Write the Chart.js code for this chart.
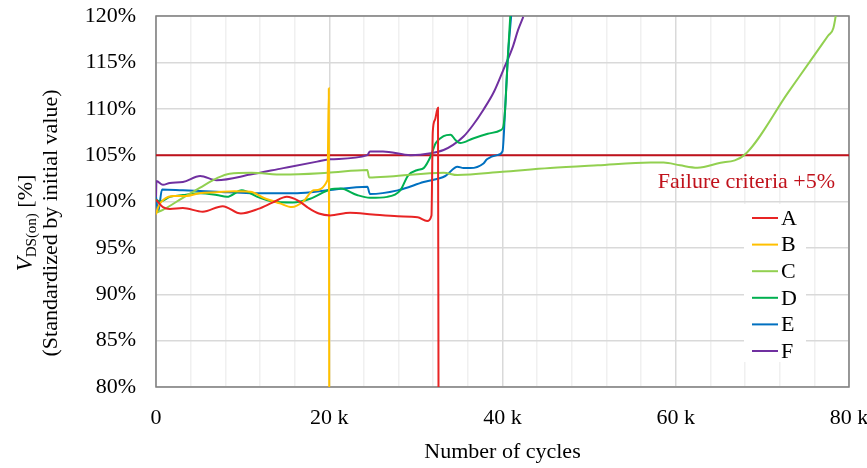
<!DOCTYPE html>
<html>
<head>
<meta charset="utf-8">
<script src="https://cdn.jsdelivr.net/npm/chart.js@4.4.0/dist/chart.umd.min.js"></script>
<style>
  body { margin: 0; background: #fff; }
  canvas { display: block; }
</style>
</head>
<body>
<canvas id="vds" width="867" height="468"></canvas>
<script>
// cycles in thousands (k), values in % of initial value
const seriesNames = ['A', 'B', 'C', 'D', 'E', 'F'];
const seriesColors = ['#e82424', '#ffc000', '#92d050', '#00b050', '#0070c0', '#7030a0'];

const aCycles = [0, 0.8, 1.6, 3.1, 5.4, 7.7, 9.8, 11.8, 13.5, 15.1, 16.4, 17.6, 18.8, 20.1, 22.4, 25, 27.9, 30.2, 31.3, 31.8, 31.95, 32.2, 32.55, 32.62];
const aValues = [100.2, 99.4, 99.2, 99.3, 98.9, 99.5, 98.7, 99.2, 99.9, 100.5, 100.1, 99.3, 98.7, 98.5, 98.8, 98.6, 98.4, 98.3, 97.9, 98.5, 107.5, 108.8, 110.1, 75];

const bCycles = [0, 0.3, 1, 2, 3.5, 5, 7, 9, 10.9, 12.4, 14.3, 15.7, 17, 18.2, 19.8, 19.95, 20.0];
const bValues = [98.6, 99.5, 100.3, 100.6, 100.6, 100.9, 101.0, 101.1, 101.05, 100.4, 99.8, 99.4, 100, 101.2, 102.3, 112.2, 75];

const cCycles = [0, 0.8, 3.1, 5.1, 7, 8.5, 11, 14.7, 19.8, 24.4, 24.6, 27, 33.2, 34.8, 40, 45.5, 51, 57.1, 58.6, 60.5, 62.5, 64.8, 67.9, 73, 75.5, 77.6, 78.2, 78.8];
const cValues = [98.8, 99.1, 100.4, 101.5, 102.5, 103.0, 103.1, 102.9, 103.1, 103.4, 102.6, 102.7, 103.1, 102.85, 103.2, 103.6, 103.9, 104.2, 104.2, 103.9, 103.65, 104.1, 105, 111.8, 115.1, 117.9, 118.7, 122];

const dCycles = [0, 0.46, 1.6, 3.1, 5.1, 7, 8.2, 9.9, 11.7, 13.5, 15.8, 17.8, 20.1, 21.3, 23.2, 24.7, 26.7, 28.2, 29.1, 30.2, 30.9, 31.7, 32.3, 33.2, 34.0, 34.6, 35.1, 36.6, 38.3, 39.8, 40.1, 40.3, 40.6, 40.9];
const dValues = [100.2, 100.0, 100.5, 100.7, 100.9, 100.7, 100.5, 101.2, 100.5, 100.0, 99.9, 100.3, 101.3, 101.4, 100.7, 100.4, 100.5, 101.2, 102.8, 103.4, 103.6, 104.85, 106.3, 107.05, 107.2, 106.6, 106.3, 106.8, 107.3, 107.7, 108.1, 109.9, 115.3, 120];

const eCycles = [0, 0.25, 0.7, 3.1, 7, 10.9, 14.7, 16.3, 19.8, 24.4, 24.7, 27.9, 30.9, 33.4, 34.8, 35.5, 36.3, 37.8, 38.2, 39.4, 40.0, 40.3, 40.6, 41.0];
const eValues = [100.5, 98.9, 101.3, 101.2, 101.05, 100.9, 100.9, 100.9, 101.2, 101.6, 100.8, 101.2, 102.1, 102.75, 103.75, 103.6, 103.6, 104.1, 104.55, 105.0, 105.4, 109.9, 115.3, 120];

const fCycles = [0, 0.05, 0.8, 1.6, 3.1, 5.1, 7, 10.9, 14.7, 18.6, 20.1, 24.4, 24.7, 26.2, 29.4, 31.7, 33.2, 34.3, 35.5, 36.6, 37.8, 39.0, 40.1, 41.2, 41.8, 42.4];
const fValues = [100.2, 102.2, 101.8, 102.0, 102.1, 102.75, 102.3, 102.9, 103.6, 104.3, 104.55, 105.0, 105.4, 105.4, 105.0, 105.2, 105.55, 106.1, 107.0, 108.25, 109.9, 111.8, 114.2, 116.7, 118.5, 119.9];

const failureCycles = [0, 80];
const failureValues = [105, 105];
const failureText = 'Failure criteria +5%';

const xTicks = [0, 20, 40, 60, 80];
const yMin = 80, yMax = 120, yStep = 5;

const allCycles = [aCycles, bCycles, cCycles, dCycles, eCycles, fCycles];
const allValues = [aValues, bValues, cValues, dValues, eValues, fValues];

const serif = "'Liberation Serif', 'Times New Roman', serif";

function toPoints(xs, ys) {
    return xs.map(function(x, i) { return {x: x, y: ys[i]}; });
}

let datasets = [];
for (let j = 0; j < seriesNames.length; j++) {
    datasets.push({
        label: seriesNames[j],
        data: toPoints(allCycles[j], allValues[j]),
        borderColor: seriesColors[j],
        borderWidth: 2,
        pointRadius: 0,
        fill: false,
        cubicInterpolationMode: 'monotone'
    });
}
datasets.push({
    label: 'failure',
    data: toPoints(failureCycles, failureValues),
    borderColor: '#c0121c',
    borderWidth: 2,
    pointRadius: 0,
    fill: false
});

// frame, failure label, legend and y title
const extras = {
    id: 'extras',
    beforeDatasetsDraw(chart) {
        const {ctx, chartArea: a} = chart;
        ctx.save();
        ctx.strokeStyle = '#7f7f7f';
        ctx.lineWidth = 1.5;
        ctx.strokeRect(a.left, a.top, a.right - a.left, a.bottom - a.top);
        ctx.restore();
    },
    afterDraw(chart) {
        const {ctx, chartArea: a, scales} = chart;
        ctx.save();

        // failure criteria text
        ctx.fillStyle = '#c0121c';
        ctx.font = '22px ' + serif;
        ctx.textAlign = 'right';
        ctx.textBaseline = 'alphabetic';
        ctx.fillText(failureText, a.right - 14, scales.y.getPixelForValue(105) + 33);

        // legend
        const lx = a.right - 97;
        ctx.fillStyle = '#fff';
        ctx.fillRect(lx - 8, a.top + 188, 62, 158);
        ctx.textAlign = 'left';
        ctx.textBaseline = 'middle';
        for (let j = 0; j < seriesNames.length; j++) {
            const ly = a.top + 202 + j * 26.6;
            ctx.strokeStyle = seriesColors[j];
            ctx.lineWidth = 2;
            ctx.beginPath();
            ctx.moveTo(lx, ly);
            ctx.lineTo(lx + 26, ly);
            ctx.stroke();
            ctx.fillStyle = '#000';
            ctx.fillText(seriesNames[j], lx + 29, ly + 1);
        }

        // y axis title (two lines, rotated)
        const cy = 223;
        ctx.translate(0, cy);
        ctx.rotate(-Math.PI / 2);
        ctx.fillStyle = '#000';
        ctx.textBaseline = 'alphabetic';
        ctx.textAlign = 'left';
        const fMain = 'italic 23px ' + serif;
        const fSub = '15px ' + serif;
        const fNorm = '22px ' + serif;
        ctx.font = fMain; const wV = ctx.measureText('V').width;
        ctx.font = fSub; const wS = ctx.measureText('DS(on)').width;
        ctx.font = fNorm; const wR = ctx.measureText(' [%]').width;
        let sx = -(wV + wS + wR) / 2;
        ctx.font = fMain; ctx.fillText('V', sx, 32); sx += wV;
        ctx.font = fSub; ctx.fillText('DS(on)', sx, 36); sx += wS;
        ctx.font = fNorm; ctx.fillText(' [%]', sx, 32);
        ctx.textAlign = 'center';
        ctx.fillText('(Standardized by initial value)', 0, 57);
        ctx.restore();
    }
};

const ctx = document.getElementById('vds');
const chart = new Chart(ctx, {
    type: 'line',
    data: { datasets: datasets },
    options: {
        responsive: false,
        animation: false,
        devicePixelRatio: 1,
        layout: { padding: { top: 16, right: 18, left: 0, bottom: 0 } },
        plugins: {
            legend: { display: false },
            tooltip: { enabled: false }
        },
        scales: {
            x: {
                type: 'linear',
                min: xTicks[0],
                max: xTicks[xTicks.length - 1],
                border: { display: false },
                grid: {
                    drawTicks: false,
                    lineWidth: 1.5,
                    color: function(c) { return xTicks.includes(c.tick.value) ? '#d9d9d9' : '#f0f0f0'; }
                },
                ticks: {
                    stepSize: 4,
                    autoSkip: false,
                    maxRotation: 0,
                    padding: 18,
                    color: '#000',
                    font: { family: serif, size: 22 },
                    callback: function(v) {
                        if (!xTicks.includes(v)) return '';
                        return v === 0 ? '0' : v + ' k';
                    }
                },
                title: {
                    display: true,
                    text: 'Number of cycles',
                    color: '#000',
                    font: { family: serif, size: 22 },
                    padding: { top: 0, bottom: 3 }
                },
                afterFit: function(s) { s.height = 81; s.paddingLeft = 0; s.paddingRight = 0; }
            },
            y: {
                min: yMin,
                max: yMax,
                border: { display: false },
                grid: { drawTicks: false, color: '#d9d9d9', lineWidth: 1.5 },
                ticks: {
                    stepSize: yStep,
                    padding: 20,
                    color: '#000',
                    font: { family: serif, size: 22 },
                    callback: function(v) { return v + '%'; }
                },
                afterFit: function(s) { s.width = 156; s.paddingTop = 0; s.paddingBottom = 0; }
            }
        }
    },
    plugins: [extras]
});
</script>
</body>
</html>
